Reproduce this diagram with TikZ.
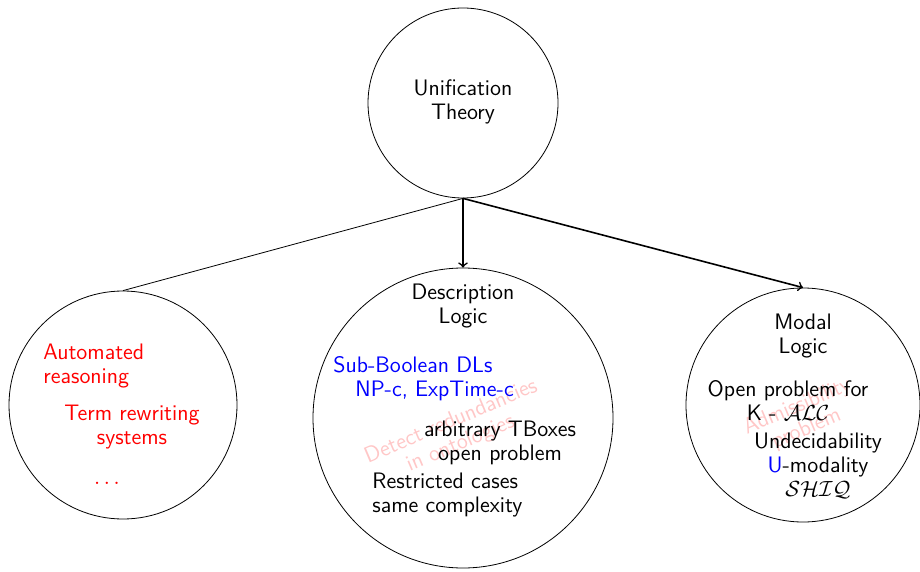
\documentclass[tikz,border=0pt]{standalone}
\usepackage{amssymb}
\usepackage{tikz}
\definecolor{unifred}{HTML}{FF0000}
\definecolor{unifblue}{HTML}{0000FF}

\begin{document}
\begin{tikzpicture}[x=0.5pt,y=-0.5pt,>=to,font=\sffamily]
  \tikzstyle{topic}=[circle, draw=black, inner sep=0pt]
  \tikzstyle{label}=[font=\fontsize{11.2}{12}\sffamily, align=center, inner sep=0pt]
  \tikzstyle{watermark}=[font=\fontsize{11.2}{12}\sffamily, align=center, inner sep=0pt, text=unifred!22, rotate=23]
  \tikzstyle{link}=[draw=black, thick, ->]

  \useasboundingbox (0,0) rectangle (920,572);

  % circles
  \node[topic, minimum size=95pt] (unif) at (463,103) {};
  \node[topic, minimum size=114pt] (auto) at (123,405) {};
  \node[topic, minimum size=150pt] (desc) at (463,418) {};
  \node[topic, minimum size=117pt] (modal) at (803,405) {};

  % watermarks
  \node[watermark] (redund) at (456,433) {Detect redundancies\\in ontologies};
  \node[watermark] (admiss) at (802,418) {Admissibility\\problem};

  % texts
  \node[label] (unift) at (463,102) {Unification\\Theory};

  \node[label, align=left, text=unifred, anchor=west] (autor) at (43,366) {Automated\\reasoning};
  \node[label, text=unifred] (term) at (132,427) {Term rewriting\\systems};
  \node[label, text=unifred] (dots) at (107,483) {$\dots$};

  \node[label] (desct) at (463,306) {Description\\Logic};
  \node[label, align=left, text=unifblue, anchor=west] (subb) at (333,379) {Sub-Boolean DLs\\\hspace*{11pt}NP-c, ExpTime-c};
  \node[label] (tbox) at (500,443) {arbitrary TBoxes\\open problem};
  \node[label, align=left, anchor=west] (restr) at (372,495) {Restricted cases\\same complexity};

  \node[label] (modalt) at (803,336) {Modal\\Logic};
  \node[label] (openp) at (788,400) {Open problem for\\K - $\mathcal{ALC}$};
  \node[label] (undec) at (818,466) {Undecidability\\{\color{unifblue}U}-modality\\$\mathcal{SHIQ}$};

  % connectors
  \draw (unif.south) -- (auto.north);
  \draw[link] (unif.south) -- (desc.north);
  \draw[link] (unif.south) -- (modal.north);
\end{tikzpicture}
\end{document}
